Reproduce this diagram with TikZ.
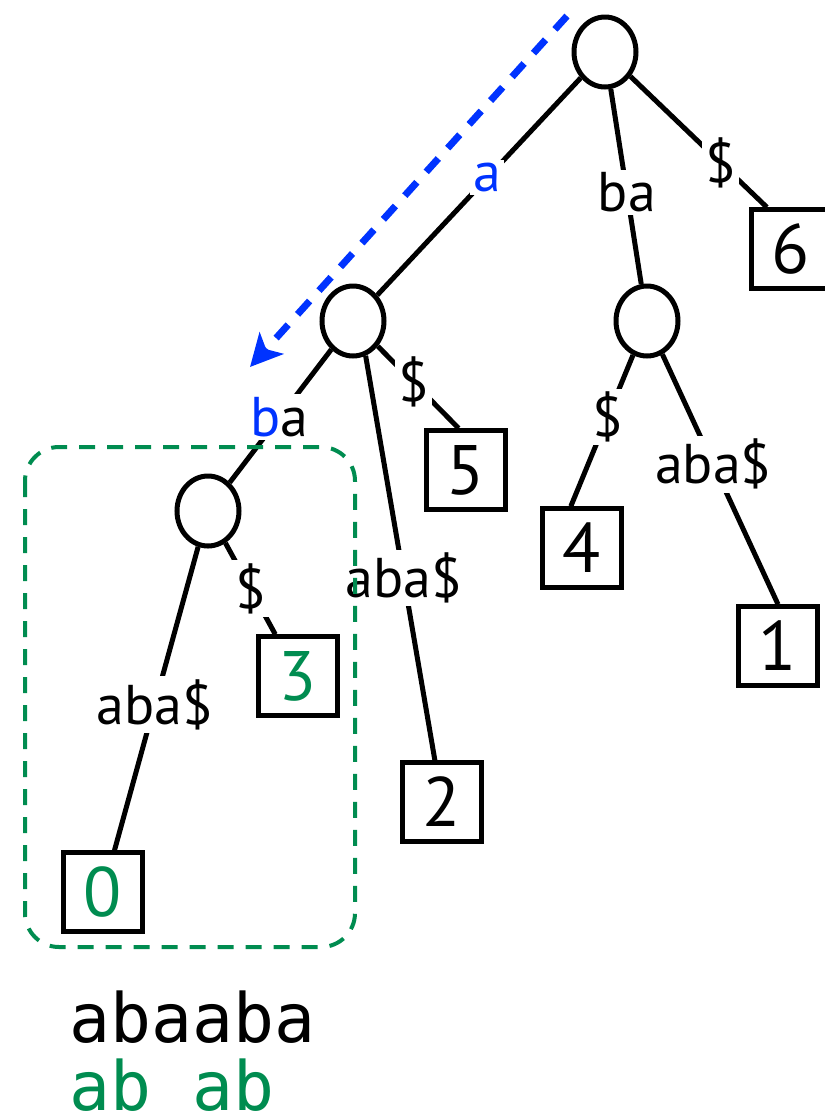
\documentclass[tikz,border=0pt]{standalone}
\usepackage{fontspec}
\setmainfont{PT Sans}
\newfontfamily\monofont{DejaVu Sans Mono}
\usetikzlibrary{arrows.meta,shapes.geometric}
\definecolor{pathblue}{RGB}{0,51,255}
\definecolor{subgreen}{RGB}{0,140,80}
\tikzset{>={Stealth[length=16pt,width=16pt,inset=4pt]}}
\tikzstyle{inner}=[ellipse,draw=black,line width=2.5pt,minimum width=31pt,minimum height=35pt,inner sep=0pt]
\tikzstyle{leaf}=[rectangle,draw=black,line width=2.2pt,minimum size=39.5pt,inner sep=0pt,font=\fontsize{35}{40}\selectfont]
\tikzstyle{edgelabel}=[fill=white,inner sep=1.5pt,font=\fontsize{28}{33}\selectfont]
\tikzstyle{branch}=[line width=2.5pt]
\tikzstyle{word}=[anchor=base west,inner sep=0pt,font=\monofont\fontsize{34}{40}\selectfont]

\begin{document}
\begin{tikzpicture}[x=0.5pt,y=-0.5pt]
	\useasboundingbox (0, 0) rectangle (825, 1115);

	% internal nodes
	\node[inner] (root) at (605, 52) {};
	\node[inner] (innerA) at (353, 321) {};
	\node[inner] (innerB) at (647, 321) {};
	\node[inner] (innerC) at (208, 511) {};

	% leaves
	\node[leaf] (leaf6) at (791, 249) {6};
	\node[leaf] (leaf5) at (466, 470) {5};
	\node[leaf] (leaf4) at (582, 548) {4};
	\node[leaf] (leaf1) at (778, 646) {1};
	\node[leaf] (leaf2) at (442, 802) {2};
	\node[leaf, text=subgreen] (leaf3) at (298, 676) {3};
	\node[leaf, text=subgreen] (leaf0) at (103, 892) {0};

	\draw[branch] (root) -- node[edgelabel, pos=0.46, text=pathblue] {a} (innerA);
	\draw[branch] (root) -- node[edgelabel, pos=0.53] {ba} (innerB);
	\draw[branch] (root) -- node[edgelabel, pos=0.66] {\$} (leaf6.120);

	\draw[branch] (innerA) -- node[edgelabel, pos=0.51] {\textcolor{pathblue}{b}a} (innerC);
	\draw[branch] (innerA) -- node[edgelabel, pos=0.44] {\$} (leaf5.100);
	\draw[branch] (innerA.290) -- node[edgelabel, pos=0.55] {aba\$} (leaf2);

	\draw[branch] (innerB) -- node[edgelabel, pos=0.41] {\$} (leaf4.105);
	\draw[branch] (innerB) -- node[edgelabel, pos=0.44] {aba\$} (leaf1.north);

	\draw[branch] (innerC) -- node[edgelabel, pos=0.50] {\$} (leaf3);
	\draw[branch] (innerC) -- node[edgelabel, pos=0.52] {aba\$} (leaf0);

	% search walk
	\coordinate (walkstart) at (567, 16);
	\coordinate (walkend) at (250, 367);
	\draw[->, pathblue, line width=3.5pt, dash pattern=on 9pt off 7pt] (walkstart) -- (walkend);

	% subtree frame
	\draw[subgreen, line width=2pt, dash pattern=on 8pt off 6pt, rounded corners=17pt] (25, 447) rectangle (355, 947);

	\node[word] (text) at (69, 1042) {abaaba};
	\node[word, text=subgreen] (occ) at (69, 1110) {ab ab};
\end{tikzpicture}
\end{document}
